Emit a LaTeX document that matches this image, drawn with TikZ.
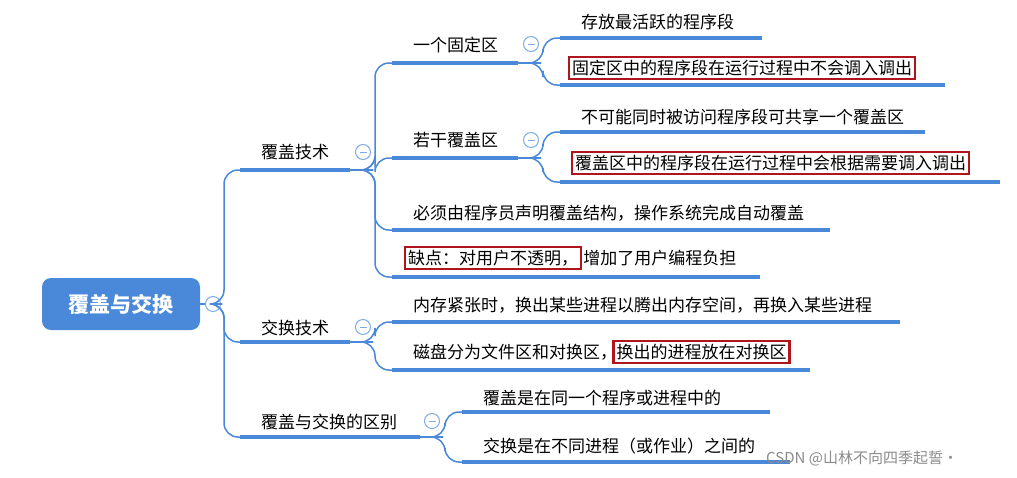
\documentclass[tikz,border=0pt]{standalone}
\usepackage{fontspec}
\newfontfamily\cjk{Noto Sans CJK SC}
\definecolor{lb}{HTML}{4A88D9}
\definecolor{boxred}{HTML}{B0141C}
\begin{document}
\begin{tikzpicture}[x=1pt,y=-1pt,
 t/.style={font=\cjk\fontsize{17}{20}\selectfont, anchor=west, inner sep=1pt},
 rbox/.style={t, draw=boxred, line width=2.2pt, inner sep=3pt},
 ul/.style={draw=lb, line width=4pt},
 e/.style={draw=lb, line width=1.5pt, rounded corners=14pt},
 col/.style={circle, draw=lb!70, fill=white, line width=1pt, minimum size=15pt, inner sep=0pt,
   path picture={\draw[lb!70,line width=1pt] ([xshift=-3.5pt]path picture bounding box.center) -- ([xshift=3.5pt]path picture bounding box.center);}},
 root/.style={fill=lb, rounded corners=9pt, minimum width=158pt, minimum height=52pt, text=white, font=\cjk\bfseries\fontsize{21}{24}\selectfont}]
\useasboundingbox[fill=white] (0,0) rectangle (1017,477);
% root
\node[root] (root) at (121,304) {覆盖与交换};
\coordinate (bp0) at (222,304);
\draw[e] (root.east) -- (bp0);
\node[col] (c0) at (213,304) {};
% level 1
\coordinate (k1a) at (240,170); \coordinate (k1b) at (350,170); \coordinate (bp1) at (373,170);
\coordinate (k2a) at (240,342); \coordinate (k2b) at (350,342); \coordinate (bp2) at (373,342);
\coordinate (k3a) at (240,437); \coordinate (k3b) at (420,437); \coordinate (bp3) at (443,437);
\foreach \k in {1,2,3}{\draw[e] (bp0) -- ++(2,0) |- (k\k a); \draw[ul] (k\k a) -- (k\k b); \draw[lb, line width=1.5pt] (k\k b) -- (bp\k);}
\node[t] (n1) at (260,152) {覆盖技术}; \node[col] (c1) at (363,152) {};
\node[t] (n2) at (260,328) {交换技术}; \node[col] (c2) at (363,327) {};
\node[t] (n3) at (260,422) {覆盖与交换的区别}; \node[col] (c3) at (432,421) {};
% level 2 under 覆盖技术
\coordinate (a1a) at (392,63); \coordinate (a1b) at (518,63); \coordinate (ba1) at (541,63);
\coordinate (a2a) at (392,158); \coordinate (a2b) at (518,158); \coordinate (ba2) at (541,158);
\coordinate (a3a) at (392,230); \coordinate (a3b) at (830,230);
\coordinate (a4a) at (392,277); \coordinate (a4b) at (760,277);
\foreach \k in {1,2,3,4}{\draw[e] (bp1) -- ++(2,0) |- (a\k a); \draw[ul] (a\k a) -- (a\k b);}
\foreach \k in {1,2}{\draw[lb, line width=1.5pt] (a\k b) -- (ba\k);}
\node[t] (m1) at (412,45) {一个固定区}; \node[col] (cm1) at (531,44) {};
\node[t] (m2) at (412,140) {若干覆盖区}; \node[col] (cm2) at (531,140) {};
\node[t] (m3) at (412,213) {必须由程序员声明覆盖结构，操作系统完成自动覆盖};
\node[rbox] (m4a) at (404,258) {缺点：对用户不透明，};
\node[t, anchor=west] (m4b) at (m4a.east) {增加了用户编程负担};
% level 3
\coordinate (f1a) at (560,38); \coordinate (f1b) at (762,38);
\coordinate (f2a) at (560,85); \coordinate (f2b) at (945,85);
\foreach \k in {1,2}{\draw[e] (ba1) -- ++(2,0) |- (f\k a); \draw[ul] (f\k a) -- (f\k b);}
\node[t] (p1) at (580,22) {存放最活跃的程序段};
\node[rbox] (p2) at (568,68) {固定区中的程序段在运行过程中不会调入调出};
\coordinate (g1a) at (560,132); \coordinate (g1b) at (925,132);
\coordinate (g2a) at (560,182); \coordinate (g2b) at (1000,182);
\foreach \k in {1,2}{\draw[e] (ba2) -- ++(2,0) |- (g\k a); \draw[ul] (g\k a) -- (g\k b);}
\node[t] (q1) at (580,117) {不可能同时被访问程序段可共享一个覆盖区};
\node[rbox] (q2) at (571,163) {覆盖区中的程序段在运行过程中会根据需要调入调出};
% under 交换技术
\coordinate (s1a) at (392,322); \coordinate (s1b) at (900,322);
\coordinate (s2a) at (392,370); \coordinate (s2b) at (810,370);
\foreach \k in {1,2}{\draw[e] (bp2) -- ++(2,0) |- (s\k a); \draw[ul] (s\k a) -- (s\k b);}
\node[t] (r1) at (412,305) {内存紧张时，换出某些进程以腾出内存空间，再换入某些进程};
\node[t] (r2a) at (412,352) {磁盘分为文件区和对换区，};
\node[rbox, anchor=west] (r2b) at ([xshift=-6pt]r2a.east) {换出的进程放在对换区};
% under 区别
\coordinate (d1a) at (462,412); \coordinate (d1b) at (770,412);
\coordinate (d2a) at (462,462); \coordinate (d2b) at (790,462);
\foreach \k in {1,2}{\draw[e] (bp3) -- ++(2,0) |- (d\k a); \draw[ul] (d\k a) -- (d\k b);}
\node[t] (w1) at (482,398) {覆盖是在同一个程序或进程中的};
\node[t] (w2) at (482,446) {交换是在不同进程（或作业）之间的};
% watermark
\node[t, text=black!45, font=\cjk\fontsize{15}{17}\selectfont] (wm) at (765,458) {CSDN @山林不向四季起誓·};
\end{tikzpicture}
\end{document}
